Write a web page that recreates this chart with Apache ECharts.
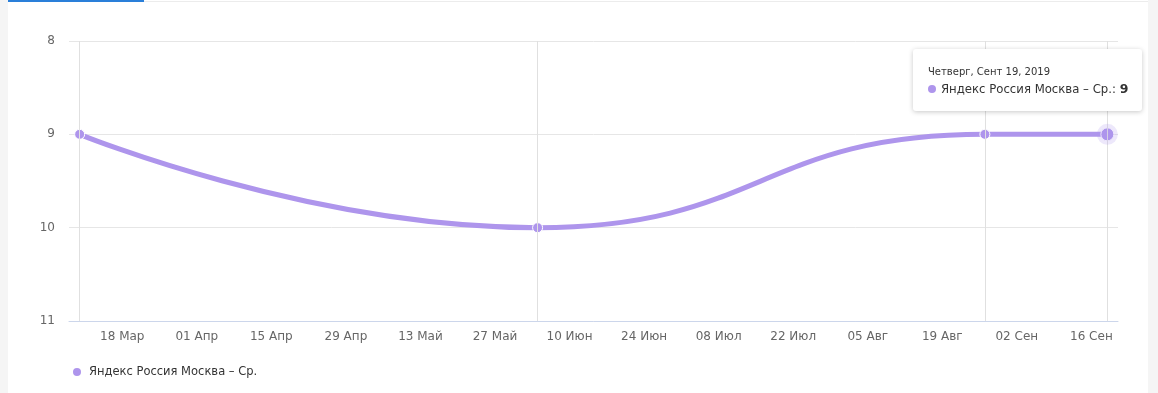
<!DOCTYPE html>
<html>
<head>
<meta charset="utf-8">
<script src="https://cdn.jsdelivr.net/npm/echarts@6/dist/echarts.min.js"></script>
<style>
  html, body { margin: 0; padding: 0; width: 1158px; height: 393px; background: #f5f5f5; overflow: hidden; }
  #panel { position: absolute; left: 8px; top: 0; width: 1140px; height: 393px; background: #fff; }
  #topline { position: absolute; left: 0; top: 1px; width: 1140px; height: 1px; background: #ececec; }
  #tab { position: absolute; left: 0; top: 0; width: 136px; height: 2px; background: #2a7fd9; }
  #chart { position: absolute; left: 0; top: 0; width: 1158px; height: 393px; }
</style>
</head>
<body>
<div id="panel"><div id="topline"></div><div id="tab"></div></div>
<div id="chart"></div>
<script>
// ---- data ----
const seriesName = 'Яндекс Россия Москва – Ср.';
const pointDates = ['2019-03-10', '2019-06-04', '2019-08-27', '2019-09-19'];
const pointValues = [9, 10, 9, 9];
const tickDates = ['2019-03-18', '2019-04-01', '2019-04-15', '2019-04-29', '2019-05-13', '2019-05-27',
  '2019-06-10', '2019-06-24', '2019-07-08', '2019-07-22', '2019-08-05', '2019-08-19', '2019-09-02', '2019-09-16'];
const tickLabels = ['18 Мар', '01 Апр', '15 Апр', '29 Апр', '13 Май', '27 Май',
  '10 Июн', '24 Июн', '08 Июл', '22 Июл', '05 Авг', '19 Авг', '02 Сен', '16 Сен'];
const xMinDate = '2019-03-08';
const xMaxDate = '2019-09-21';
const yTicks = [8, 9, 10, 11];
const tooltipDate = 'Четверг, Сент 19, 2019';
const hoverIndex = 3;

// ---- chart ----
const toTs = s => new Date(s + 'T00:00:00').getTime();
const color = '#ae95ec';
const font = 'DejaVu Sans';
const tickTs = tickDates.map(toTs);
const seriesData = pointDates.map((d, i) => [toTs(d), pointValues[i]]);

const chart = echarts.init(document.getElementById('chart'), null, { renderer: 'canvas' });
chart.setOption({
  animation: false,
  textStyle: { fontFamily: font },
  grid: { left: 69, right: 40, top: 41, bottom: 72, containLabel: false },
  xAxis: {
    type: 'value',
    min: toTs(xMinDate),
    max: toTs(xMaxDate),
    axisLine: { show: true, lineStyle: { color: '#ccd6eb', width: 1 } },
    axisTick: { show: false },
    splitLine: { show: false },
    axisLabel: {
      customValues: tickTs,
      margin: 10,
      color: '#666',
      fontSize: 12,
      fontFamily: font,
      hideOverlap: false,
      showMinLabel: true,
      showMaxLabel: true,
      formatter: function (v) {
        const i = tickTs.indexOf(v);
        return i >= 0 ? tickLabels[i] : '';
      }
    }
  },
  yAxis: {
    type: 'value',
    inverse: true,
    min: yTicks[0],
    max: yTicks[yTicks.length - 1],
    interval: 1,
    axisLine: { show: false },
    axisTick: { show: false },
    splitLine: { show: true, lineStyle: { color: '#e6e6e6', width: 1 } },
    axisLabel: { color: '#666', fontSize: 12, fontFamily: font, margin: 14 }
  },
  legend: {
    left: 71,
    top: 366,
    padding: 0,
    icon: 'circle',
    itemWidth: 10,
    itemHeight: 10,
    textStyle: { color: '#333', fontSize: 11.5, fontFamily: font, padding: [0, 0, 0, 2] },
    data: [seriesName]
  },
  tooltip: {
    trigger: 'item',
    alwaysShowContent: true,
    transitionDuration: 0,
    backgroundColor: '#fff',
    borderColor: '#fff',
    borderWidth: 0,
    borderRadius: 3,
    padding: [16, 14, 12, 15],
    extraCssText: 'box-shadow: 0 1px 5px rgba(0,0,0,0.22);',
    position: function () { return [913, 49]; },
    formatter: function (p) {
      return '<div style="font-family:DejaVu Sans;font-size:10px;color:#333;line-height:14px;">' + tooltipDate + '</div>' +
        '<div style="font-family:DejaVu Sans;font-size:11.7px;color:#333;line-height:20px;white-space:nowrap;">' +
        '<span style="display:inline-block;width:8px;height:8px;border-radius:50%;background:' + color + ';margin-right:5px;vertical-align:0px;"></span>' +
        p.seriesName + ': <b style="font-size:12.5px;">' + p.value[1] + '</b></div>';
    }
  },
  series: [{
    name: seriesName,
    type: 'line',
    data: seriesData,
    smooth: 0.5,
    symbol: 'circle',
    symbolSize: 10,
    lineStyle: { color: color, width: 5 },
    itemStyle: { color: color, borderColor: '#fff', borderWidth: 1 },
    emphasis: {
      scale: 1.3,
      lineStyle: { color: color, width: 5 },
      itemStyle: { color: color, borderColor: '#fff', borderWidth: 1 }
    },
    markLine: {
      silent: true,
      symbol: ['none', 'none'],
      label: { show: false },
      lineStyle: { color: '#e0e0e0', width: 1, type: 'solid' },
      emphasis: { disabled: true },
      data: seriesData.map(d => ({ xAxis: d[0] }))
    },
    markPoint: {
      silent: true,
      symbol: 'circle',
      symbolSize: 21,
      label: { show: false },
      itemStyle: { color: 'rgba(174,149,236,0.22)' },
      data: [{ coord: seriesData[hoverIndex] }]
    }
  }]
});
chart.dispatchAction({ type: 'highlight', seriesIndex: 0, dataIndex: hoverIndex });
chart.dispatchAction({ type: 'showTip', seriesIndex: 0, dataIndex: hoverIndex });
</script>
</body>
</html>
